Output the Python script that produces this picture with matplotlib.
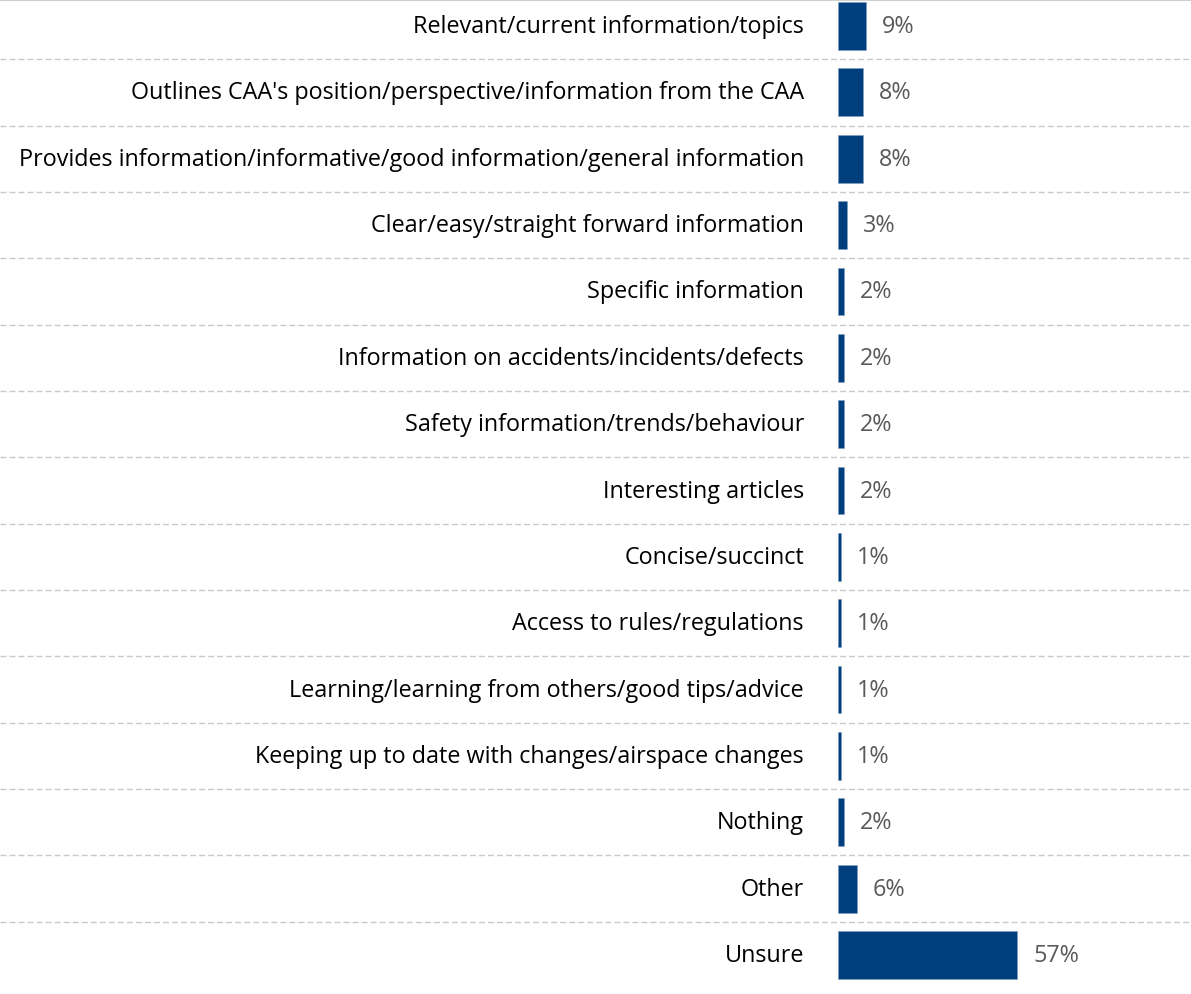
import matplotlib
matplotlib.use('Agg')
import matplotlib.pyplot as plt

categories = [
    'Relevant/current information/topics',
    "Outlines CAA's position/perspective/information from the CAA",
    'Provides information/informative/good information/general information',
    'Clear/easy/straight forward information',
    'Specific information',
    'Information on accidents/incidents/defects',
    'Safety information/trends/behaviour',
    'Interesting articles',
    'Concise/succinct',
    'Access to rules/regulations',
    'Learning/learning from others/good tips/advice',
    'Keeping up to date with changes/airspace changes',
    'Nothing',
    'Other',
    'Unsure',
]
values = [9, 8, 8, 3, 2, 2, 2, 2, 1, 1, 1, 1, 2, 6, 57]
labels = ['9%', '8%', '8%', '3%', '2%', '2%', '2%', '2%', '1%', '1%', '1%', '1%', '2%', '6%', '57%']

plt.rcParams['font.family'] = ['Open Sans', 'DejaVu Sans']

W, H = 1191, 995
fig = plt.figure(figsize=(W / 100, H / 100), dpi=100)
ax = fig.add_axes([0, 0, 1, 1])

# pixel geometry
px_per_unit = 179 / 57
x0 = 838
row0, row_step = 27, 66.36
ax.set_xlim(-x0 / px_per_unit, (W - x0) / px_per_unit)
ax.set_ylim((H - row0) / row_step, -row0 / row_step)

bar_color = '#003F7D'
ypos = list(range(len(categories)))
ax.barh(ypos, values, height=0.72, color=bar_color, edgecolor='#7f9fbf', linewidth=0.4)

lbl_x = -34 / px_per_unit
for y, cat, v, t in zip(ypos, categories, values, labels):
    ax.text(lbl_x, y, cat, ha='right', va='center', fontsize=16.8, color='#000000')
    ax.text(v + 16 / px_per_unit, y, t, ha='left', va='center', fontsize=16.8, color='#595959')

# dashed separators between rows
for i in range(len(categories) - 1):
    ax.axhline(i + 0.5, color='#c8c8c8', linewidth=1, dashes=(4.3, 2.2), zorder=0)
ax.axhline(-row0 / row_step + 0.01, color='#d0d0d0', linewidth=1.5, zorder=0)

ax.axis('off')
fig.savefig('out.png', dpi=100)
